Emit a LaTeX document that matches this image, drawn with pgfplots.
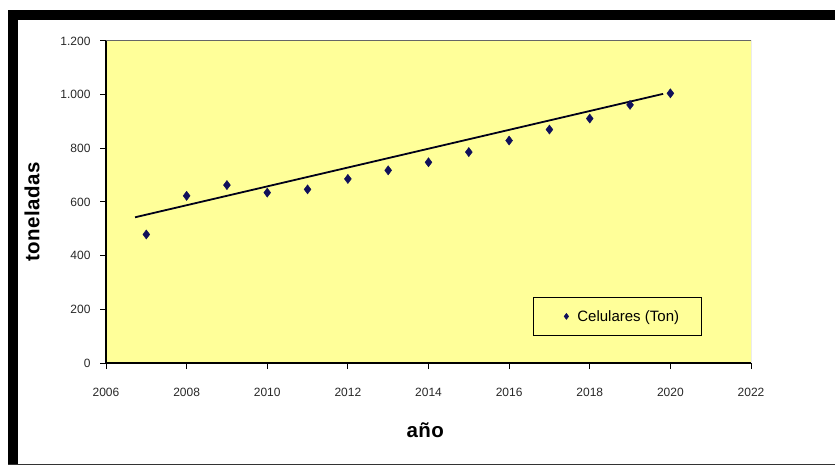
\documentclass[border=0pt]{standalone}
\usepackage{pgfplots}
\pgfplotsset{compat=1.18}
\usepackage{fontspec}
\setmainfont{Liberation Sans}
\definecolor{plotyellow}{RGB}{255,255,153}
\definecolor{markblue}{RGB}{16,16,90}
\definecolor{ticktext}{RGB}{40,40,40}
\begin{document}
\begin{tikzpicture}[x=1pt,y=1pt]
\useasboundingbox (0,0) rectangle (835,466);
\fill[white] (0,0) rectangle (835,466);
\fill[black] (8,446) rectangle (835,456);
\fill[black] (8,1) rectangle (18,456);
\fill[black!80] (8,1) rectangle (835,2.5);
\begin{axis}[
  at={(106pt,103pt)}, anchor=south west,
  scale only axis, width=645pt, height=322pt,
  xmin=2006, xmax=2022, ymin=0, ymax=1200,
  xtick={2006,2008,...,2022}, ytick={0,200,...,1200},
  axis background/.style={fill=plotyellow},
  axis lines=left, axis line style={-, black, line width=1.1pt},
  tick align=outside, major tick length=6pt,
  every tick/.style={black, line width=1pt},
  /pgf/number format/assume math mode=true,
  xticklabel style={/pgf/number format/1000 sep={}, font=\fontsize{12}{14}\selectfont, text=ticktext, yshift=-16pt},
  yticklabel style={/pgf/number format/1000 sep={.}, font=\fontsize{12}{14}\selectfont, text=ticktext, xshift=-6pt},
  xlabel={año}, ylabel={toneladas},
  xlabel style={at={(axis description cs:0.495,-0.208)}, anchor=center, font=\bfseries\fontsize{20.5}{24}\selectfont\addfontfeatures{LetterSpace=2}},
  ylabel style={at={(axis description cs:-0.1147,0.469)}, anchor=center, font=\bfseries\fontsize{20.5}{24}\selectfont\addfontfeatures{LetterSpace=2}},
  legend style={at={(axis description cs:0.662,0.084)}, anchor=south west, draw=black, line width=0.8pt, fill=plotyellow,
    font=\fontsize{15}{17}\selectfont, inner xsep=20pt, inner ysep=11pt},
  legend cell align=left,
]
\draw[gray!80!black, line width=1pt] (rel axis cs:0,1) -- (rel axis cs:1,1) -- (rel axis cs:1,0);
\addplot[black!90!blue, line width=1.8pt, forget plot] coordinates {(2006.72,543) (2019.82,1003)};
\addplot[only marks, mark=diamond*, mark size=4.6pt, markblue,
  legend image code/.code={\path[draw=none, fill=none] (0pt,0pt) rectangle (22pt,0.1pt); \draw[mark=diamond*, mark size=2.8pt, markblue] plot coordinates {(13pt,0pt)};}]
  coordinates {
  (2007,479) (2008,623) (2009,663) (2010,635) (2011,647) (2012,686) (2013,718)
  (2014,748) (2015,786) (2016,829) (2017,870) (2018,911) (2019,962) (2020,1005)
  };
\addlegendentry{Celulares (Ton)}
\end{axis}
\end{tikzpicture}
\end{document}
